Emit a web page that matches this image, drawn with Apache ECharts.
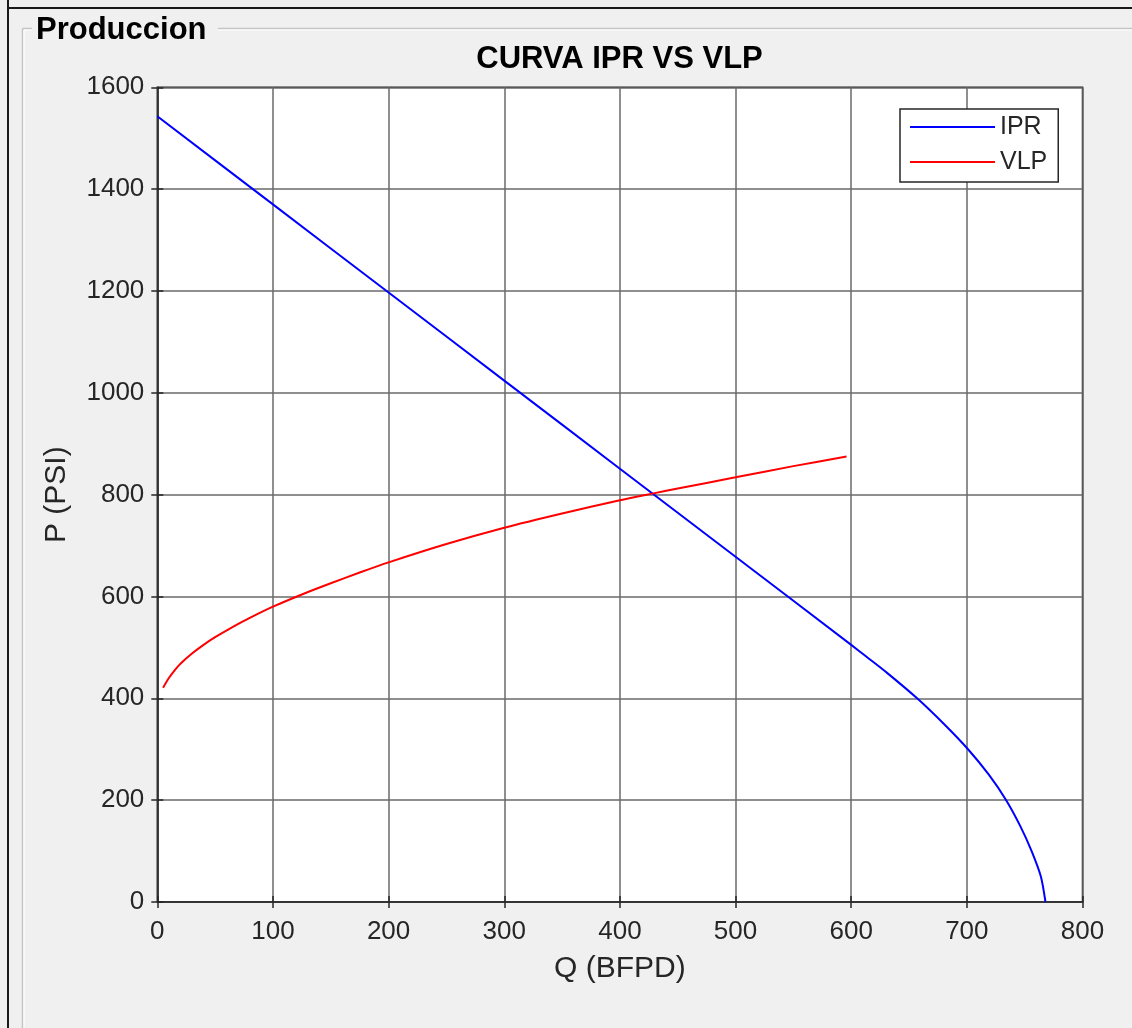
<!DOCTYPE html>
<html>
<head>
<meta charset="utf-8">
<script src="https://cdn.jsdelivr.net/npm/echarts@6/dist/echarts.min.js"></script>
<style>
html,body{margin:0;padding:0;background:#f0f0f0;}
#chart{width:1132px;height:1028px;}
</style>
</head>
<body>
<div id="chart"></div>
<script>
// Data
var qIPR = [0, 100, 200, 300, 400, 500, 600, 613, 631, 657, 680, 701, 719, 734, 746, 756, 764, 768];
var pIPR = [1543, 1370, 1197, 1024, 851, 678, 505, 482, 450, 400, 350, 300, 250, 200, 150, 100, 50, 0];
var qVLP = [5, 10, 15, 20, 30, 40, 50, 65, 80, 100, 125, 150, 175, 200, 250, 300, 350, 400, 428, 450, 500, 550, 596];
var pVLP = [421, 440, 455, 468, 488, 505, 520, 540, 558, 580, 604, 626, 647, 667, 703, 735, 763, 789, 802, 812, 834, 856, 875];
var xTicks = {min: 0, max: 800, interval: 100};
var yTicks = {min: 0, max: 1600, interval: 200};
var seriesNames = ['IPR', 'VLP'];
var chartTitle = 'CURVA IPR VS VLP';
var panelTitle = 'Produccion';
var xName = 'Q (BFPD)';
var yName = 'P (PSI)';

function pairs(xs, ys) { return xs.map(function (x, i) { return [x, ys[i]]; }); }

var FONT = '"Liberation Sans", Arial, Helvetica, sans-serif';
var TXT = '#262626';
var chart = echarts.init(document.getElementById('chart'), null, {renderer: 'canvas'});

var tickCommon = {show: true, inside: true, length: 6, lineStyle: {color: TXT, width: 1.5}};
var plain = function (v) { return String(v); };

chart.setOption({
  backgroundColor: '#f0f0f0',
  animation: false,
  title: {
    text: chartTitle,
    left: 619.5, textAlign: 'center', top: 44, padding: 0,
    textStyle: {fontFamily: FONT, fontSize: 31, fontWeight: 'bold', color: '#000'}
  },
  graphic: [
    {type: 'line', shape: {x1: 8, y1: 0, x2: 8, y2: 1028}, style: {stroke: '#1a1a1a', lineWidth: 2}, z: 100},
    {type: 'line', shape: {x1: 8, y1: 8, x2: 1132, y2: 8}, style: {stroke: '#1a1a1a', lineWidth: 2}, z: 100},
    {type: 'line', shape: {x1: 22.5, y1: 28.5, x2: 22.5, y2: 1028}, style: {stroke: '#c4c4c4', lineWidth: 1.5}, z: 100},
    {type: 'line', shape: {x1: 24, y1: 30, x2: 24, y2: 1028}, style: {stroke: '#ffffff', lineWidth: 1}, z: 100},
    {type: 'line', shape: {x1: 22.5, y1: 28.5, x2: 1132, y2: 28.5}, style: {stroke: '#c4c4c4', lineWidth: 1.5}, z: 100},
    {type: 'line', shape: {x1: 24, y1: 30, x2: 1132, y2: 30}, style: {stroke: '#ffffff', lineWidth: 1}, z: 100},
    {type: 'rect', shape: {x: 32, y: 14, width: 186, height: 30}, style: {fill: '#f0f0f0'}, z: 101},
    {type: 'text', left: 36, top: 15, z: 102,
      style: {text: panelTitle, font: 'bold 31px ' + FONT, fill: '#000'}}
  ],
  legend: {
    data: seriesNames,
    orient: 'vertical',
    left: 900, top: 109,
    padding: [5, 11, 7, 10],
    itemGap: 9,
    icon: 'rect',
    itemWidth: 85, itemHeight: 2,
    backgroundColor: '#ffffff',
    borderColor: TXT, borderWidth: 1.5, borderRadius: 0,
    textStyle: {fontFamily: FONT, fontSize: 25, color: TXT, lineHeight: 26}
  },
  grid: {
    left: 157.3, top: 87.3, right: 49.5, bottom: 126,
    show: true, backgroundColor: '#ffffff', borderColor: TXT, borderWidth: 1.5
  },
  xAxis: [{
    type: 'value', min: xTicks.min, max: xTicks.max, interval: xTicks.interval,
    name: xName, nameLocation: 'middle', nameGap: 52,
    nameTextStyle: {fontFamily: FONT, fontSize: 30, color: TXT},
    axisLine: {show: true, lineStyle: {color: TXT, width: 1.5}},
    axisTick: tickCommon,
    axisLabel: {fontFamily: FONT, fontSize: 26, color: TXT, margin: 17, formatter: plain},
    splitLine: {show: true, lineStyle: {color: '#6a6a6a', width: 1.5}}
  }, {
    type: 'value', position: 'top', min: xTicks.min, max: xTicks.max, interval: xTicks.interval,
    axisLine: {show: false}, axisTick: tickCommon, axisLabel: {show: false}, splitLine: {show: false}
  }],
  yAxis: [{
    type: 'value', min: yTicks.min, max: yTicks.max, interval: yTicks.interval,
    name: yName, nameLocation: 'middle', nameGap: 86, nameRotate: 90,
    nameTextStyle: {fontFamily: FONT, fontSize: 30, color: TXT},
    axisLine: {show: true, lineStyle: {color: TXT, width: 1.5}},
    axisTick: tickCommon,
    axisLabel: {fontFamily: FONT, fontSize: 26, color: TXT, margin: 13, formatter: plain},
    splitLine: {show: true, lineStyle: {color: '#6a6a6a', width: 1.5}}
  }, {
    type: 'value', position: 'right', min: yTicks.min, max: yTicks.max, interval: yTicks.interval,
    axisLine: {show: false}, axisTick: tickCommon, axisLabel: {show: false}, splitLine: {show: false}
  }],
  series: [{
    name: seriesNames[0], type: 'line', xAxisIndex: 0, yAxisIndex: 0,
    data: pairs(qIPR, pIPR), symbol: 'none', smooth: 0.25,
    lineStyle: {color: '#0000ff', width: 2}, itemStyle: {color: '#0000ff'}
  }, {
    name: seriesNames[1], type: 'line', xAxisIndex: 0, yAxisIndex: 0,
    data: pairs(qVLP, pVLP), symbol: 'none', smooth: 0.25,
    lineStyle: {color: '#ff0000', width: 2}, itemStyle: {color: '#ff0000'}
  }]
});
</script>
</body>
</html>
